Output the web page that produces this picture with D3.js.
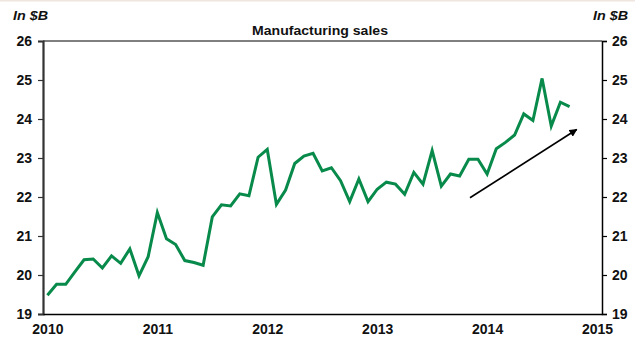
<!DOCTYPE html>
<html>
<head>
<meta charset="utf-8">
<script src="https://cdn.jsdelivr.net/npm/d3@7/dist/d3.min.js"></script>
<style>
  html, body { margin: 0; padding: 0; background: #fff; }
  svg { display: block; }
  text { font-family: "Liberation Sans", Arial, sans-serif; fill: #111; }
</style>
</head>
<body>
<svg id="chart" width="635" height="341"></svg>
<script>
// Monthly manufacturing sales, Jan 2010 – Oct 2014 (in $B)
const startYear = 2010;
const sales = [
  19.48, 19.76, 19.76, 20.08, 20.39, 20.41, 20.18, 20.49, 20.30, 20.67, 19.98, 20.47,
  21.60, 20.93, 20.78, 20.37, 20.32, 20.25, 21.49, 21.80, 21.77, 22.08, 22.03, 23.02,
  23.22, 21.81, 22.18, 22.86, 23.05, 23.12, 22.67, 22.75, 22.42, 21.88, 22.46, 21.88,
  22.20, 22.38, 22.33, 22.07, 22.63, 22.33, 23.19, 22.28, 22.59, 22.54, 22.97, 22.97,
  22.59, 23.24, 23.40, 23.59, 24.13, 23.96, 25.04, 23.82, 24.43, 24.32
];
const yTicks = [19, 20, 21, 22, 23, 24, 25, 26];
const xTicks = [2010, 2011, 2012, 2013, 2014, 2015];
// Trend arrow: [year, value] start and end
const trendArrow = [[2013.844, 21.98], [2014.815, 23.73]];
const title = "Manufacturing sales";
const unitLabel = "In $B";

const svg = d3.select("#chart");
const plot = { left: 43, right: 602, top: 41, bottom: 314 };

const x = d3.scaleLinear().domain([2009.96, 2015.045]).range([plot.left, plot.right]);
const y = d3.scaleLinear().domain([19, 26]).range([plot.bottom, plot.top]);

const tickFont = g => g.selectAll(".tick text")
  .attr("font-size", 14).attr("font-weight", "bold")
  .attr("font-family", "Liberation Sans, Arial, sans-serif").attr("fill", "#111");

// faint frame line at the very top
svg.append("line").attr("x1", 0).attr("x2", 635).attr("y1", 0.5).attr("y2", 0.5)
  .attr("stroke", "#efe6df").attr("stroke-width", 2);

// top border
svg.append("line").attr("x1", plot.left).attr("x2", plot.right)
  .attr("y1", plot.top).attr("y2", plot.top)
  .attr("stroke", "#000").attr("stroke-width", 1);

// left axis
const gL = svg.append("g").attr("transform", `translate(${plot.left},0)`)
  .call(d3.axisLeft(y).tickValues(yTicks).tickSize(5).tickPadding(6).tickFormat(d3.format("d")));
gL.select(".domain").attr("stroke", "#333").attr("stroke-width", 2.2);
gL.selectAll(".tick line").attr("stroke", "#333").attr("stroke-width", 1.2);
gL.call(tickFont);

// right axis
const gR = svg.append("g").attr("transform", `translate(${plot.right},0)`)
  .call(d3.axisRight(y).tickValues(yTicks).tickSize(5).tickPadding(5).tickFormat(d3.format("d")));
gR.select(".domain").attr("stroke", "#000").attr("stroke-width", 1.5);
gR.selectAll(".tick line").attr("stroke", "#000").attr("stroke-width", 1.2);
gR.call(tickFont);

// bottom axis
const gB = svg.append("g").attr("transform", `translate(0,${plot.bottom})`)
  .call(d3.axisBottom(x).tickValues(xTicks).tickSize(0).tickPadding(10).tickFormat(d3.format("d")));
gB.select(".domain").attr("stroke", "#000").attr("stroke-width", 1.5);
gB.call(tickFont);

// sales line
const line = d3.line()
  .x((d, i) => x(startYear + i / 12))
  .y(d => y(d));
svg.append("path").datum(sales)
  .attr("d", line)
  .attr("fill", "none")
  .attr("stroke", "#088a4b")
  .attr("stroke-width", 3)
  .attr("stroke-linejoin", "miter");

// trend arrow
svg.append("defs").append("marker")
  .attr("id", "arrowhead")
  .attr("viewBox", "0 0 10 10")
  .attr("refX", 9).attr("refY", 5)
  .attr("markerWidth", 5).attr("markerHeight", 5)
  .attr("orient", "auto")
  .append("path").attr("d", "M0,0 L10,5 L0,10 Z").attr("fill", "#000");
svg.append("line")
  .attr("x1", x(trendArrow[0][0])).attr("y1", y(trendArrow[0][1]))
  .attr("x2", x(trendArrow[1][0])).attr("y2", y(trendArrow[1][1]))
  .attr("stroke", "#000").attr("stroke-width", 1.6)
  .attr("marker-end", "url(#arrowhead)");

// title and unit labels
svg.append("text").attr("x", 320).attr("y", 35).attr("text-anchor", "middle")
  .attr("font-size", 12).attr("font-weight", "bold")
  .attr("textLength", 136).attr("lengthAdjust", "spacingAndGlyphs")
  .text(title);
svg.append("text").attr("x", 13).attr("y", 20)
  .attr("font-size", 13).attr("font-weight", "bold").attr("font-style", "italic")
  .attr("textLength", 35).attr("lengthAdjust", "spacingAndGlyphs")
  .text(unitLabel);
svg.append("text").attr("x", 593).attr("y", 20)
  .attr("font-size", 13).attr("font-weight", "bold").attr("font-style", "italic")
  .attr("textLength", 35).attr("lengthAdjust", "spacingAndGlyphs")
  .text(unitLabel);
</script>
</body>
</html>
